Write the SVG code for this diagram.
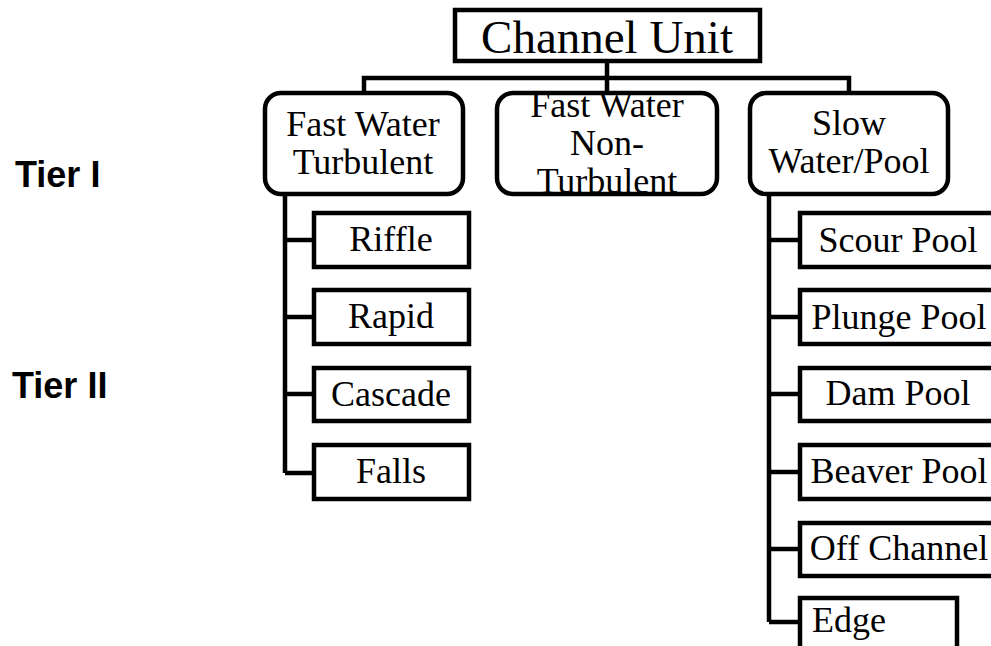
<svg xmlns="http://www.w3.org/2000/svg" width="991" height="646" viewBox="0 0 991 646">
<style>
.box{fill:none;stroke:#000;stroke-width:4.5}
.bg{fill:#fff;stroke:none}
.t{font-family:"Liberation Serif","Times New Roman",serif;font-size:36px;fill:#000;text-anchor:middle}
.tl{font-family:"Liberation Serif","Times New Roman",serif;font-size:36px;fill:#000}
.tier{font-family:"Liberation Sans",Arial,sans-serif;font-size:36px;font-weight:bold;fill:#000}
.c{fill:none;stroke:#000;stroke-width:4.5}
</style>
<rect width="991" height="646" fill="#fff"/>
<g id="connectors">
<path class="c" d="M607 62V93M364 93V78H849V93"/>
<path class="c" d="M285 195V473M285 240H313M285 317H313M285 394H313M285 473H313"/>
<path class="c" d="M769 195V622M769 240H799M769 317H799M769 394H799M769 472H799M769 549H799M769 622H799"/>
</g>
<g id="tier1"><text class="tier" x="15" y="187">Tier I</text></g>
<g id="tier2"><text class="tier" x="12" y="398">Tier II</text></g>
<g id="channel-unit">
<rect class="bg" x="455" y="10" width="305" height="51"/>
<text class="t" x="607" y="53" style="font-size:47px">Channel Unit</text>
<rect class="box" x="455" y="10" width="305" height="51"/>
</g>
<g id="fast-turbulent">
<rect class="bg" x="265" y="93" width="198" height="101" rx="16"/>
<text class="t" x="363" y="136">Fast Water</text>
<text class="t" x="363" y="174">Turbulent</text>
<rect class="box" x="265" y="93" width="198" height="101" rx="16"/>
</g>
<g id="fast-nonturbulent">
<rect class="bg" x="497" y="93" width="220" height="101" rx="16"/>
<text class="t" x="607" y="117">Fast Water</text>
<text class="t" x="607" y="155">Non-</text>
<text class="t" x="607" y="193">Turbulent</text>
<rect class="box" x="497" y="93" width="220" height="101" rx="16"/>
</g>
<g id="slow-pool">
<rect class="bg" x="750" y="93" width="198" height="101" rx="16"/>
<text class="t" x="849" y="135">Slow</text>
<text class="t" x="849" y="173">Water/Pool</text>
<rect class="box" x="750" y="93" width="198" height="101" rx="16"/>
</g>
<g id="riffle"><rect class="box" x="314" y="213" width="155" height="54"/><text class="t" x="391" y="251">Riffle</text></g>
<g id="rapid"><rect class="box" x="314" y="290" width="155" height="54"/><text class="t" x="391" y="328">Rapid</text></g>
<g id="cascade"><rect class="box" x="314" y="368" width="155" height="53"/><text class="t" x="391" y="406">Cascade</text></g>
<g id="falls"><rect class="box" x="314" y="445" width="155" height="54"/><text class="t" x="391" y="483">Falls</text></g>
<g id="scour-pool"><rect class="box" x="800" y="213" width="200" height="54"/><text class="t" x="898" y="252">Scour Pool</text></g>
<g id="plunge-pool"><rect class="box" x="800" y="290" width="200" height="54"/><text class="t" x="899" y="329">Plunge Pool</text></g>
<g id="dam-pool"><rect class="box" x="800" y="368" width="200" height="53"/><text class="t" x="898" y="405">Dam Pool</text></g>
<g id="beaver-pool"><rect class="box" x="800" y="445" width="200" height="54"/><text class="t" x="899" y="483">Beaver Pool</text></g>
<g id="off-channel"><rect class="box" x="800" y="523" width="200" height="53"/><text class="t" x="899" y="560">Off Channel</text></g>
<g id="edge"><rect class="box" x="800" y="598" width="157" height="60"/><text class="tl" x="812" y="632">Edge</text></g>
</svg>
